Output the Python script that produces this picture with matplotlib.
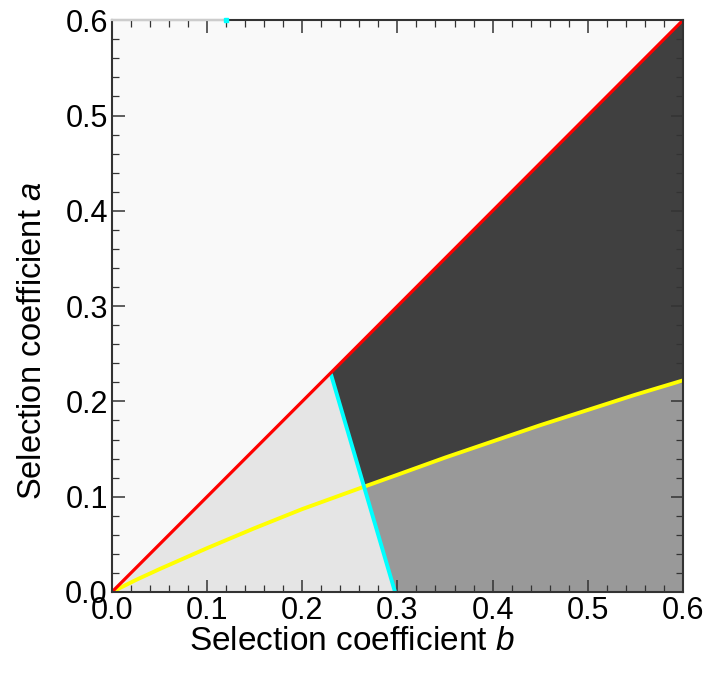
import numpy as np
import matplotlib.pyplot as plt
from matplotlib.ticker import MultipleLocator

plt.rcParams['font.family'] = ['Liberation Sans', 'DejaVu Sans']
plt.rcParams['mathtext.fontset'] = 'custom'
plt.rcParams['mathtext.it'] = 'Liberation Sans:italic'

# boundary curves
diag_b = [0.0, 0.6]
diag_a = [0.0, 0.6]
cyan_b = [0.23, 0.2975]
cyan_a = [0.229, 0.0]
yellow_b = [0.0, 0.025, 0.05, 0.1, 0.15, 0.2, 0.265, 0.3, 0.35, 0.4, 0.45, 0.5, 0.55, 0.6]
yellow_a = [0.0, 0.0125, 0.024, 0.046, 0.067, 0.087, 0.1105, 0.123, 0.141, 0.158, 0.175, 0.191, 0.207, 0.222]
cross_b = 0.265

c_upper = '#f9f9f9'
c_light = '#e5e5e5'
c_mid = '#999999'
c_dark = '#404040'

fig = plt.figure(figsize=(7.04, 6.75), dpi=100)
ax = fig.add_axes([0.159, 0.123, 0.811, 0.847])
ax.set_facecolor(c_upper)

# region below the diagonal
ax.fill_between(diag_b, 0, diag_a, color=c_light, lw=0)

# right of cyan line, below diagonal
mid_poly = [(cyan_b[0], cyan_a[0]), (diag_b[1], diag_a[1]),
            (diag_b[1], 0.0), (cyan_b[1], cyan_a[1])]
ax.fill(*zip(*mid_poly), color=c_mid, lw=0)

# right of cyan, above yellow
yb = np.array(yellow_b)
ya = np.array(yellow_a)
keep = yb >= cross_b
dark_poly = [(cyan_b[0], cyan_a[0]), (diag_b[1], diag_a[1])]
dark_poly += list(zip(yb[keep][::-1], ya[keep][::-1]))
ax.fill(*zip(*dark_poly), color=c_dark, lw=0)

ax.plot(yellow_b, yellow_a, color='#ffff00', lw=2.8, solid_capstyle='butt',
        solid_joinstyle='round')
ax.plot(cyan_b, cyan_a, color='#00ffff', lw=2.8, solid_capstyle='butt')
ax.plot(diag_b, diag_a, color='#ff0000', lw=2.3, solid_capstyle='butt')

ax.set_xlim(0, 0.6)
ax.set_ylim(0, 0.6)
ax.xaxis.set_major_locator(MultipleLocator(0.1))
ax.yaxis.set_major_locator(MultipleLocator(0.1))
ax.xaxis.set_minor_locator(MultipleLocator(0.02))
ax.yaxis.set_minor_locator(MultipleLocator(0.02))
ax.xaxis.set_major_formatter('{x:.1f}')
ax.yaxis.set_major_formatter('{x:.1f}')
ax.tick_params(which='both', direction='in', top=True, right=True,
               color='#333333', labelsize=22, pad=3)
ax.tick_params(which='major', length=9, width=1.1)
ax.tick_params(which='minor', length=5, width=0.9)
for s in ax.spines.values():
    s.set_color('#333333')
    s.set_linewidth(1.5)

# light stretch of the top frame seen in the original
ax.plot([0, 0.12], [0.6, 0.6], color='#cccccc', lw=1.6, clip_on=False, zorder=3)
ax.plot([0.12], [0.6], 's', color='#00ffff', ms=2.5, clip_on=False, zorder=4)

ax.set_xlabel('Selection coefficient $b$', fontsize=24, va='center')
ax.set_ylabel('Selection coefficient $a$', fontsize=23.5, va='center')
ax.xaxis.set_label_coords(0.42, -0.086)
ax.yaxis.set_label_coords(-0.14, 0.44)

fig.savefig('out.png', dpi=100)
